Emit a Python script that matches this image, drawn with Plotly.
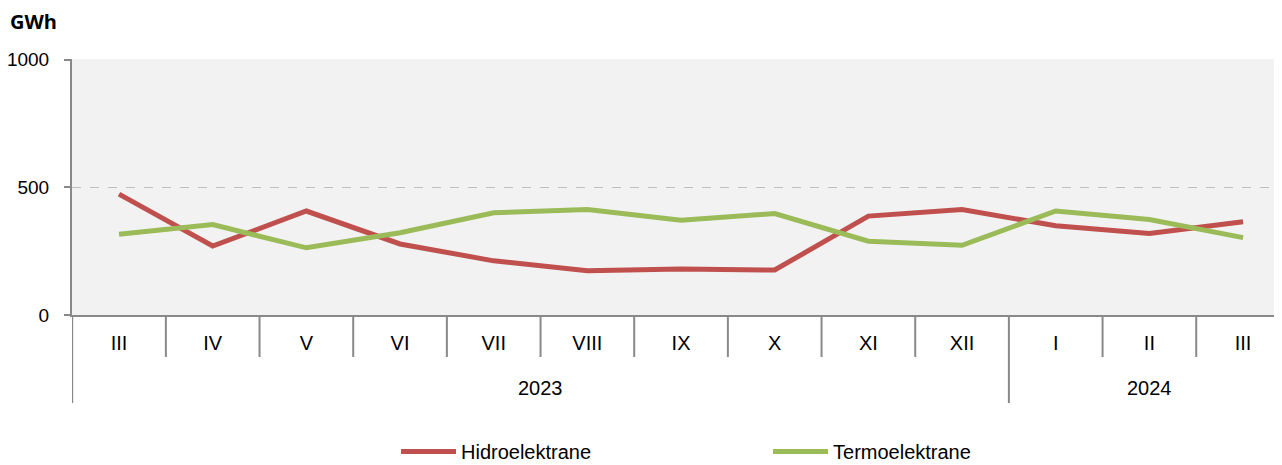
import plotly.graph_objects as go

months = ["III", "IV", "V", "VI", "VII", "VIII", "IX", "X", "XI", "XII", "I", "II", "III"]
years = ["2023"] * 10 + ["2024"] * 3
hidro = [473, 270, 407, 278, 212, 173, 180, 176, 387, 413, 349, 319, 365]
termo = [316, 354, 263, 322, 400, 413, 371, 397, 289, 273, 407, 374, 303]
y_ticks = [0, 500, 1000]

FONT = "Liberation Sans, Arial, sans-serif"
FS = 20
AXIS = "#898989"
idx = list(range(len(months)))

fig = go.Figure()
fig.add_trace(go.Scatter(x=idx, y=hidro, mode="lines", name="Hidroelektrane",
                         line=dict(color="#C0504D", width=5)))
fig.add_trace(go.Scatter(x=idx, y=termo, mode="lines", name="Termoelektrane",
                         line=dict(color="#9BBB59", width=5)))

# category separators
shapes = []
for i in range(len(months) - 1):
    boundary = i + 0.5
    new_year = years[i] != years[i + 1]
    shapes.append(dict(type="line", xref="x", yref="paper", x0=boundary, x1=boundary,
                       y0=0, y1=-0.344 if new_year else -0.164,
                       line=dict(color=AXIS, width=2)))
shapes.append(dict(type="line", xref="x", yref="paper", x0=-0.5, x1=-0.5,
                   y0=0, y1=-0.344, line=dict(color=AXIS, width=2)))

annotations = []
for yr in sorted(set(years)):
    pos = [i for i, y in enumerate(years) if y == yr]
    annotations.append(dict(x=(pos[0] + pos[-1]) / 2, y=-0.285, xref="x", yref="paper",
                            text=yr, showarrow=False, yanchor="middle",
                            font=dict(family=FONT, size=FS, color="#000")))
annotations.append(dict(x=-0.0529, y=1.148, xref="paper", yref="paper", text="<b>GWh</b>",
                        showarrow=False, xanchor="left", yanchor="middle",
                        font=dict(family="Open Sans, Liberation Sans, sans-serif", size=20, color="#000")))

fig.update_layout(
    width=1274, height=457,
    margin=dict(l=64, r=1, t=51, b=150, autoexpand=False),
    paper_bgcolor="white", plot_bgcolor="#F2F2F2",
    font=dict(family=FONT, size=FS, color="#000"),
    showlegend=True,
    legend=dict(orientation="h", x=0.268, y=-0.609, xanchor="left", yanchor="bottom",
                font=dict(family=FONT, size=FS, color="#000"), itemwidth=55,
                entrywidth=302, entrywidthmode="pixels", bgcolor="rgba(0,0,0,0)"),
    shapes=shapes, annotations=annotations,
    xaxis=dict(range=[-0.502, 12.405], tickvals=idx, ticktext=months, automargin=False,
               showgrid=False, zeroline=False, showline=True, linecolor=AXIS, linewidth=2,
               ticks="", ticklabelstandoff=9, tickfont=dict(family=FONT, size=FS)),
    yaxis=dict(range=[0, 1002], tickvals=y_ticks, showgrid=True, gridcolor="#BFBFBF",
               griddash="dash", gridwidth=1, zeroline=False, showline=True, linecolor=AXIS,
               linewidth=2, ticks="outside", ticklen=6, tickcolor=AXIS, tickwidth=2,
               automargin=False, ticklabelstandoff=11, tickfont=dict(family=FONT, size=19)),
)

fig.write_html("out.html")
